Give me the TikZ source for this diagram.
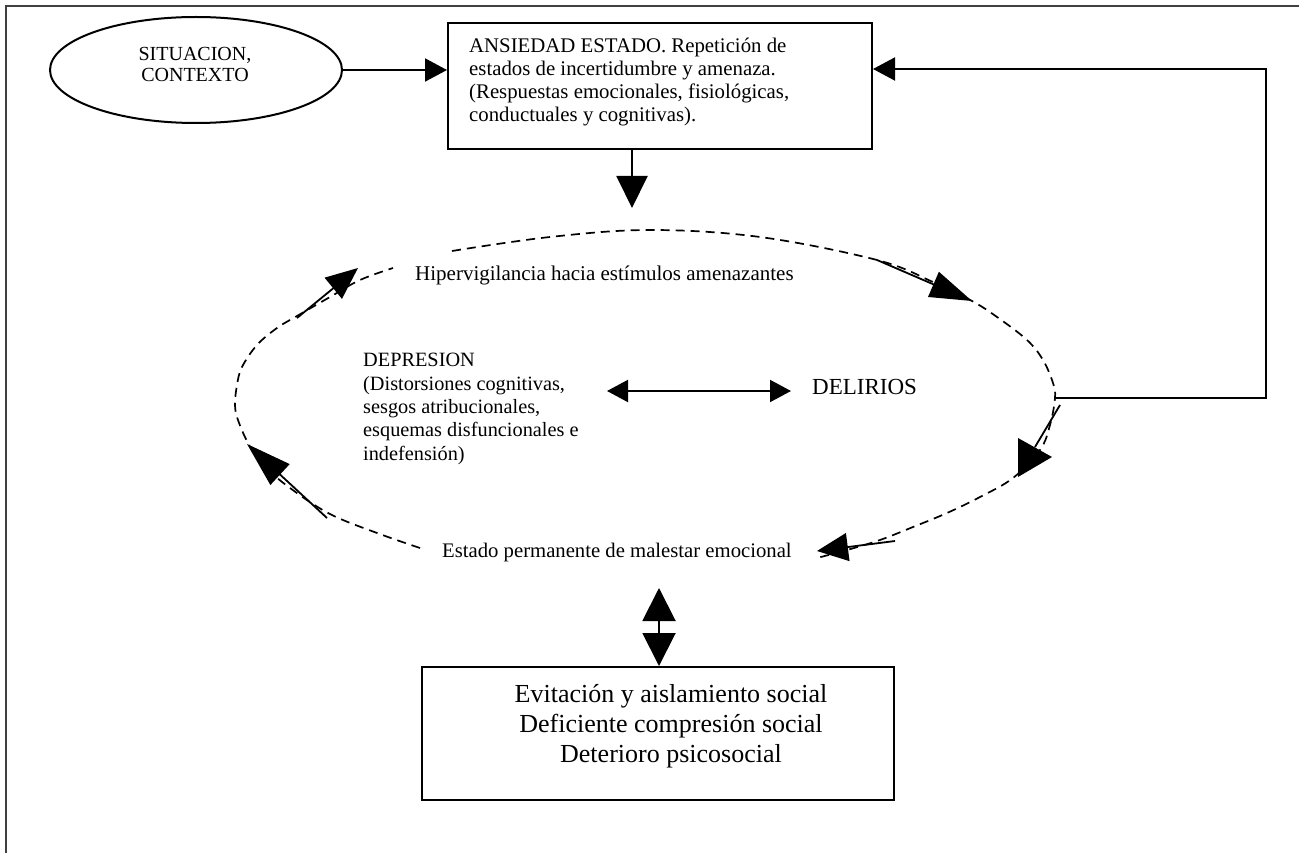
\documentclass[tikz,border=0pt]{standalone}
\usepackage{fontspec}
\setmainfont{Liberation Serif}
\usetikzlibrary{arrows.meta,shapes.geometric}
\begin{document}
\begin{tikzpicture}[x=1pt,y=-1pt,
  box/.style={draw,line width=2pt,rectangle,inner sep=0pt,anchor=north west},
  ln/.style={line width=1.8pt},
  dsh/.style={line width=1.7pt,dash pattern=on 9pt off 6pt},
  txt/.style={inner sep=0pt,anchor=base west,align=left},
  ctxt/.style={inner sep=0pt,anchor=base,align=center},
  arr/.style={line width=2pt,-{Triangle[length=22pt,width=23pt]}},
]
\useasboundingbox (0,0) rectangle (1299,853);
% frame
\draw[line width=2.2pt,black!75] (5,6) -- (1299,6);
\draw[line width=2.2pt,black!75] (6,6) -- (6,853);

% nodes
\node[draw,ellipse,line width=2pt,minimum width=292pt,minimum height=106pt,inner sep=0pt] (sit) at (196,70) {};
\node[ctxt,font=\fontsize{20}{21}\selectfont] (sittxt) at (195,82) {SITUACION,\\CONTEXTO};

\node[box,minimum width=424pt,minimum height=126pt] (ans) at (447,22) {};
\node[txt,font=\fontsize{20.8}{23}\selectfont] (anstxt) at (469,122)
  {ANSIEDAD ESTADO. Repetición de\\estados de incertidumbre y amenaza.\\(Respuestas emocionales, fisiológicas,\\conductuales y cognitivas).};

\node[txt,font=\fontsize{21}{23}\selectfont] (hip) at (415,280) {Hipervigilancia hacia estímulos amenazantes};
\node[txt,font=\fontsize{20.3}{23.3}\selectfont] (dep) at (363,460)
  {DEPRESION\\(Distorsiones cognitivas,\\sesgos atribucionales,\\esquemas disfuncionales e\\indefensión)};
\node[txt,font=\fontsize{23}{25}\selectfont] (del) at (812,394) {DELIRIOS};
\node[txt,font=\fontsize{20.7}{23}\selectfont] (est) at (442,557) {Estado permanente de malestar emocional};

\node[box,minimum width=472pt,minimum height=133pt] (soc) at (421,666) {};
\node[ctxt,font=\fontsize{26}{30}\selectfont] (soctxt) at (671,762)
  {Evitación y aislamiento social\\Deficiente compresión social\\Deterioro psicosocial};

% coordinates
\coordinate (d1) at (632,208);
\coordinate (re) at (1055,398);
\coordinate (fb) at (1266,69);
\coordinate (dl) at (607,391);
\coordinate (dr) at (791,391);
\coordinate (vt) at (659,588);

% connectors
\draw[arr] (sit.east) -- (sit.east -| ans.west);
\draw[line width=2pt,-{Triangle[length=32pt,width=31pt]}] (d1 |- ans.south) -- (d1);
\draw[arr] (re) -| (fb) -- (fb -| ans.east);
\draw[line width=2pt,{Triangle[length=21pt,width=22pt]}-{Triangle[length=21pt,width=22pt]}] (dl) -- (dr);
\draw[line width=2pt,{Triangle[length=33pt,width=33pt]}-{Triangle[length=33pt,width=33pt]}] (vt) -- (vt |- soc.north);

% dashed cycle
\draw[dsh] plot[smooth,tension=0.6] coordinates {(420,548) (377,533) (330,514) (290,488) (262,464) (248,443) (238,420) (235,405) (237,385) (242,367) (257,345) (277,328) (297,316) (330,297) (360,280) (393,268)};
\draw[dsh] plot[smooth,tension=0.6] coordinates {(452,251) (550,237) (650,230) (760,237) (877,260) (933,282) (972,301) (997,317) (1027,340) (1043,360) (1053,383) (1055,398) (1050,425) (1040,450) (1013,478) (980,497) (947,513) (913,527) (880,540) (847,550) (817,558)};

% arrowheads on the cycle
\draw[ln,-{Triangle[length=32pt,width=27pt]}] (297,318) -- (358,268);
\draw[ln,-{Triangle[length=42pt,width=27pt]}] (877,260) -- (972,301);
\draw[ln] (1060,405) -- (1035,447);
\fill (1018,438) -- (1018,477) -- (1052,457) -- cycle;
\draw[ln,-{Triangle[length=31pt,width=28pt]}] (895,541) -- (817,551);
\draw[ln,-{Triangle[length=45pt,width=28pt]}] (327,518) -- (247,444);
\end{tikzpicture}
\end{document}
